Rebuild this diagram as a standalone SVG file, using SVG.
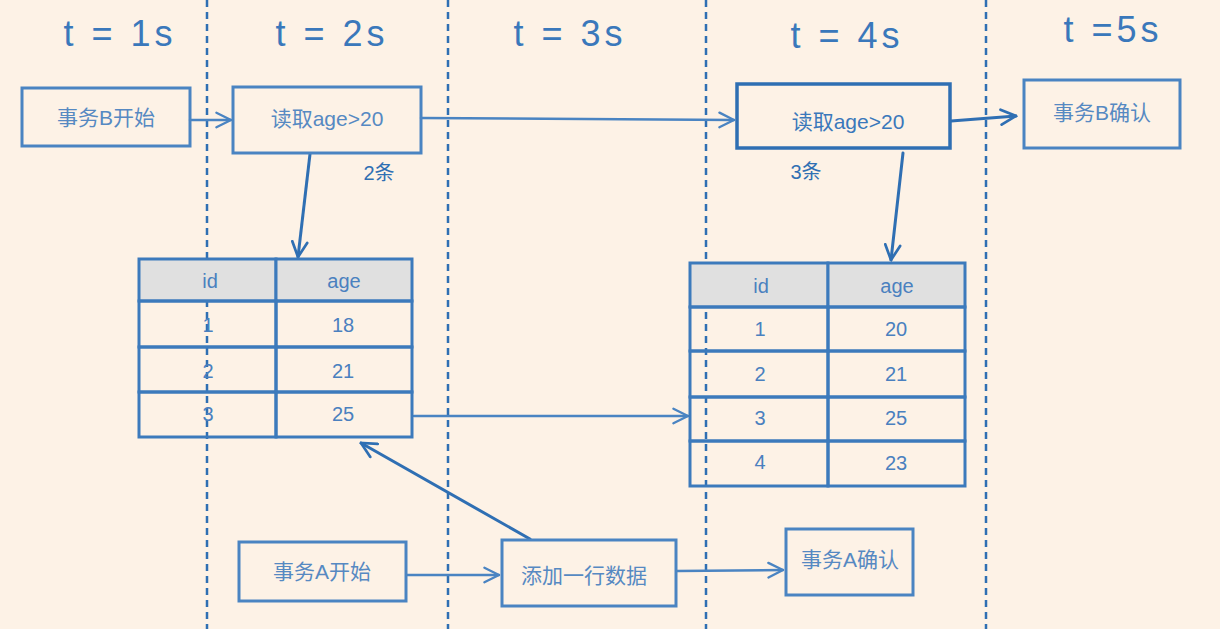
<svg xmlns="http://www.w3.org/2000/svg" width="1220" height="629" viewBox="0 0 1220 629">
<defs>
<style>
.bg{fill:#fdf2e6}
.div{stroke:#2f6fb3;stroke-width:2.5;stroke-dasharray:7 5;fill:none}
.hdr{font-family:"Liberation Sans","Noto Sans CJK SC",sans-serif;font-size:36px;letter-spacing:4px;fill:#3a78bb;text-anchor:middle}
.box{fill:none;stroke:#4a84c2;stroke-width:3}
.boxd{fill:none;stroke:#2f6fb3;stroke-width:3.5}
.lbl{font-family:"Liberation Sans","Noto Sans CJK SC",sans-serif;font-size:21px;fill:#5689c2;text-anchor:middle}
.cnt{font-family:"Liberation Sans","Noto Sans CJK SC",sans-serif;font-size:20px;fill:#2f6fb3;text-anchor:middle}
.cell{fill:none;stroke:#3c7abc;stroke-width:3}
.head{fill:#e0e0e0;stroke:#3c7abc;stroke-width:3}
.ct{font-family:"Liberation Sans","Noto Sans CJK SC",sans-serif;font-size:20px;fill:#4a80bf;text-anchor:middle}
.con{fill:none;stroke:#4a84c2;stroke-width:2.5;stroke-linecap:round}
.cond{fill:none;stroke:#2f6fb3;stroke-width:3;stroke-linecap:round}
</style>
<marker id="ah" viewBox="0 0 12 12" refX="11" refY="6" markerWidth="7" markerHeight="7" markerUnits="strokeWidth" orient="auto">
<path d="M1,1 L11,6 L1,11" fill="none" stroke="#4a84c2" stroke-width="1.6" stroke-linecap="round"/>
</marker>
<marker id="ahd" viewBox="0 0 12 12" refX="11" refY="6" markerWidth="6" markerHeight="6" markerUnits="strokeWidth" orient="auto">
<path d="M1,1 L11,6 L1,11" fill="none" stroke="#2f6fb3" stroke-width="1.8" stroke-linecap="round"/>
</marker>
</defs>
<rect class="bg" x="0" y="0" width="1220" height="629"/>

<g id="dividers">
<line class="div" x1="207" y1="0" x2="207" y2="629"/>
<line class="div" x1="448" y1="0" x2="448" y2="629"/>
<line class="div" x1="706" y1="0" x2="706" y2="629"/>
<line class="div" x1="986" y1="0" x2="986" y2="629"/>
</g>

<g id="headers">
<text class="hdr" x="120" y="46">t = 1s</text>
<text class="hdr" x="332" y="46">t = 2s</text>
<text class="hdr" x="570" y="46">t = 3s</text>
<text class="hdr" x="847" y="48">t = 4s</text>
<text class="hdr" x="1113" y="42">t =5s</text>
</g>

<g id="connectors">
<line class="con" x1="190" y1="120" x2="231" y2="120" marker-end="url(#ah)"/>
<line class="con" x1="421" y1="118" x2="734" y2="120" marker-end="url(#ah)"/>
<line class="cond" x1="951" y1="121" x2="1016" y2="116" marker-end="url(#ahd)"/>
<line class="cond" x1="310" y1="154" x2="298" y2="257" marker-end="url(#ahd)"/>
<line class="cond" x1="903" y1="153" x2="891" y2="260" marker-end="url(#ahd)"/>
<line class="con" x1="414" y1="416" x2="688" y2="416" marker-end="url(#ah)"/>
<line class="cond" x1="530" y1="539" x2="361" y2="443" marker-end="url(#ahd)"/>
<line class="con" x1="407" y1="575" x2="499" y2="575" marker-end="url(#ah)"/>
<line class="con" x1="677" y1="571" x2="783" y2="570" marker-end="url(#ah)"/>
</g>

<g id="txB-start">
<rect class="box" x="22" y="88" width="168" height="58"/>
<text class="lbl" x="106" y="125">事务B开始</text>
</g>

<g id="read1">
<rect class="box" x="233" y="87" width="188" height="66"/>
<text class="lbl" x="327" y="126">读取age&gt;20</text>
</g>
<text class="cnt" x="379" y="180">2条</text>

<g id="read2">
<rect class="boxd" x="737" y="84" width="213" height="64"/>
<text class="lbl" x="848" y="129" style="fill:#3a78bb">读取age&gt;20</text>
</g>
<text class="cnt" x="806" y="179">3条</text>

<g id="txB-commit">
<rect class="box" x="1024" y="80" width="156" height="68"/>
<text class="lbl" x="1102" y="120">事务B确认</text>
</g>

<g id="table1">
<rect class="head" x="139" y="259" width="137" height="42"/>
<rect class="head" x="276" y="259" width="136" height="42"/>
<rect class="cell" x="139" y="301" width="137" height="46"/>
<rect class="cell" x="276" y="301" width="136" height="46"/>
<rect class="cell" x="139" y="347" width="137" height="45"/>
<rect class="cell" x="276" y="347" width="136" height="45"/>
<rect class="cell" x="139" y="392" width="137" height="45"/>
<rect class="cell" x="276" y="392" width="136" height="45"/>
<text class="ct" x="210" y="288">id</text>
<text class="ct" x="344" y="288">age</text>
<text class="ct" x="208" y="332">1</text>
<text class="ct" x="343" y="332">18</text>
<text class="ct" x="208" y="378">2</text>
<text class="ct" x="343" y="378">21</text>
<text class="ct" x="208" y="421">3</text>
<text class="ct" x="343" y="421">25</text>
</g>

<g id="table2">
<rect class="head" x="690" y="263" width="138" height="44"/>
<rect class="head" x="828" y="263" width="137" height="44"/>
<rect class="cell" x="690" y="307" width="138" height="44"/>
<rect class="cell" x="828" y="307" width="137" height="44"/>
<rect class="cell" x="690" y="351" width="138" height="46"/>
<rect class="cell" x="828" y="351" width="137" height="46"/>
<rect class="cell" x="690" y="397" width="138" height="44"/>
<rect class="cell" x="828" y="397" width="137" height="44"/>
<rect class="cell" x="690" y="441" width="138" height="45"/>
<rect class="cell" x="828" y="441" width="137" height="45"/>
<text class="ct" x="761" y="293">id</text>
<text class="ct" x="897" y="293">age</text>
<text class="ct" x="760" y="336">1</text>
<text class="ct" x="896" y="336">20</text>
<text class="ct" x="760" y="381">2</text>
<text class="ct" x="896" y="381">21</text>
<text class="ct" x="760" y="425">3</text>
<text class="ct" x="896" y="425">25</text>
<text class="ct" x="760" y="469">4</text>
<text class="ct" x="896" y="470">23</text>
</g>

<g id="txA-start">
<rect class="box" x="239" y="542" width="167" height="59"/>
<text class="lbl" x="322" y="579">事务A开始</text>
</g>

<g id="insert">
<rect class="box" x="502" y="540" width="174" height="66"/>
<text class="lbl" x="584" y="583">添加一行数据</text>
</g>

<g id="txA-commit">
<rect class="box" x="786" y="529" width="127" height="66"/>
<text class="lbl" x="850" y="567">事务A确认</text>
</g>
</svg>
